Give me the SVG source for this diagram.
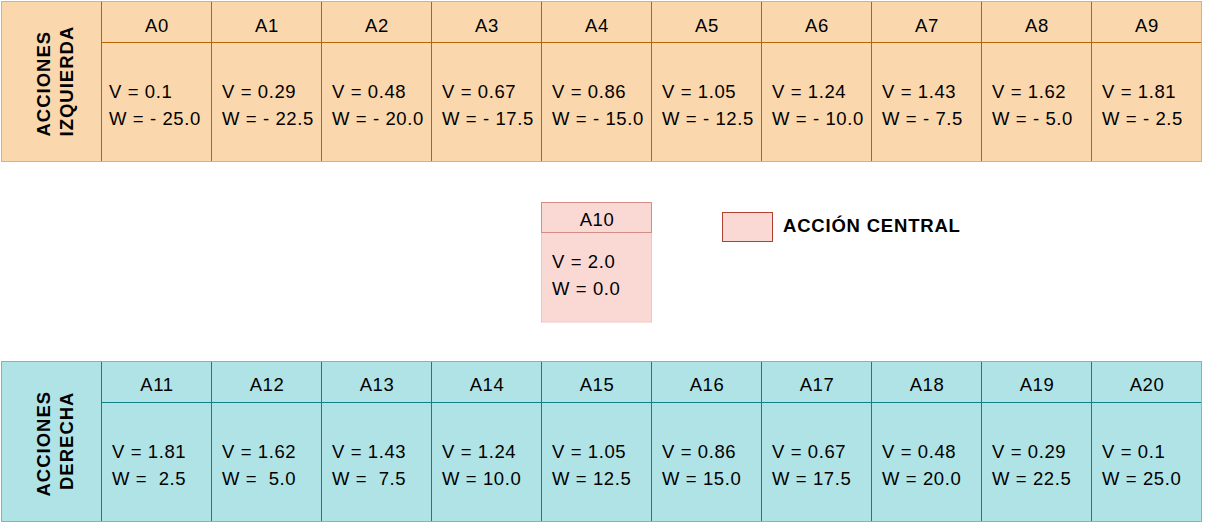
<svg xmlns="http://www.w3.org/2000/svg" width="1205" height="525" viewBox="0 0 1205 525">
<style>
text{font-family:"Liberation Sans",Arial,Helvetica,sans-serif;font-size:18.5px;fill:#000;letter-spacing:0.6px;white-space:pre}
.b{font-weight:bold;letter-spacing:1px}
.h{text-anchor:middle}
.lc{fill:#fad7ac;stroke:#b46504;stroke-width:1}
.rc{fill:#b0e3e6;stroke:#0e8088;stroke-width:1}
.lo{fill:none;stroke:#dcae80;stroke-width:1}
.ro{fill:none;stroke:#72bcc0;stroke-width:1}
</style>
<rect x="0" y="0" width="1205" height="525" fill="#ffffff"/>
<g id="izquierda">
<g id="label-izq"><rect class="lc" x="1.5" y="1.5" width="100" height="160"/><text class="b" transform="translate(50,136.5) rotate(-90)">ACCIONES</text><text class="b" transform="translate(73,136.5) rotate(-90)">IZQUIERDA</text></g>
<g id="A0"><rect class="lc" x="101.5" y="1.5" width="110" height="41"/><rect class="lc" x="101.5" y="42.5" width="110" height="119"/><text class="h" x="157" y="31.5">A0</text><text x="109" y="98">V = 0.1</text><text x="109" y="125">W = - 25.0</text></g>
<g id="A1"><rect class="lc" x="211.5" y="1.5" width="110" height="41"/><rect class="lc" x="211.5" y="42.5" width="110" height="119"/><text class="h" x="267" y="31.5">A1</text><text x="222" y="98">V = 0.29</text><text x="222" y="125">W = - 22.5</text></g>
<g id="A2"><rect class="lc" x="321.5" y="1.5" width="110" height="41"/><rect class="lc" x="321.5" y="42.5" width="110" height="119"/><text class="h" x="377" y="31.5">A2</text><text x="332" y="98">V = 0.48</text><text x="332" y="125">W = - 20.0</text></g>
<g id="A3"><rect class="lc" x="431.5" y="1.5" width="110" height="41"/><rect class="lc" x="431.5" y="42.5" width="110" height="119"/><text class="h" x="487" y="31.5">A3</text><text x="442" y="98">V = 0.67</text><text x="442" y="125">W = - 17.5</text></g>
<g id="A4"><rect class="lc" x="541.5" y="1.5" width="110" height="41"/><rect class="lc" x="541.5" y="42.5" width="110" height="119"/><text class="h" x="597" y="31.5">A4</text><text x="552" y="98">V = 0.86</text><text x="552" y="125">W = - 15.0</text></g>
<g id="A5"><rect class="lc" x="651.5" y="1.5" width="110" height="41"/><rect class="lc" x="651.5" y="42.5" width="110" height="119"/><text class="h" x="707" y="31.5">A5</text><text x="662" y="98">V = 1.05</text><text x="662" y="125">W = - 12.5</text></g>
<g id="A6"><rect class="lc" x="761.5" y="1.5" width="110" height="41"/><rect class="lc" x="761.5" y="42.5" width="110" height="119"/><text class="h" x="817" y="31.5">A6</text><text x="772" y="98">V = 1.24</text><text x="772" y="125">W = - 10.0</text></g>
<g id="A7"><rect class="lc" x="871.5" y="1.5" width="110" height="41"/><rect class="lc" x="871.5" y="42.5" width="110" height="119"/><text class="h" x="927" y="31.5">A7</text><text x="882" y="98">V = 1.43</text><text x="882" y="125">W = - 7.5</text></g>
<g id="A8"><rect class="lc" x="981.5" y="1.5" width="110" height="41"/><rect class="lc" x="981.5" y="42.5" width="110" height="119"/><text class="h" x="1037" y="31.5">A8</text><text x="992" y="98">V = 1.62</text><text x="992" y="125">W = - 5.0</text></g>
<g id="A9"><rect class="lc" x="1091.5" y="1.5" width="110" height="41"/><rect class="lc" x="1091.5" y="42.5" width="110" height="119"/><text class="h" x="1147" y="31.5">A9</text><text x="1102" y="98">V = 1.81</text><text x="1102" y="125">W = - 2.5</text></g>
<rect class="lo" x="1.5" y="1.5" width="1200" height="160"/>
</g>
<g id="A10">
<rect x="541.5" y="232" width="110" height="90" fill="#fad9d5" stroke="#f2c4c0" stroke-width="1"/>
<rect x="541.5" y="202.5" width="110" height="30" fill="#fad9d5" stroke="#d48e89" stroke-width="1"/>
<text class="h" x="597" y="225.5">A10</text><text x="552" y="268">V = 2.0</text><text x="552" y="295">W = 0.0</text>
</g>
<g id="leyenda">
<rect x="722.5" y="212.5" width="50" height="29" fill="#fad9d5" stroke="#ae4132" stroke-width="1"/>
<text class="b" x="783" y="231.5" style="letter-spacing:0.8px">ACCIÓN CENTRAL</text>
</g>
<g id="derecha">
<g id="label-der"><rect class="rc" x="1.5" y="361.5" width="100" height="160"/><text class="b" transform="translate(50,496.5) rotate(-90)">ACCIONES</text><text class="b" transform="translate(73,490) rotate(-90)">DERECHA</text></g>
<g id="A11"><rect class="rc" x="101.5" y="361.5" width="110" height="41"/><rect class="rc" x="101.5" y="402.5" width="110" height="119"/><text class="h" x="157" y="391">A11</text><text x="112" y="458">V = 1.81</text><text x="112" y="485">W =  2.5</text></g>
<g id="A12"><rect class="rc" x="211.5" y="361.5" width="110" height="41"/><rect class="rc" x="211.5" y="402.5" width="110" height="119"/><text class="h" x="267" y="391">A12</text><text x="222" y="458">V = 1.62</text><text x="222" y="485">W =  5.0</text></g>
<g id="A13"><rect class="rc" x="321.5" y="361.5" width="110" height="41"/><rect class="rc" x="321.5" y="402.5" width="110" height="119"/><text class="h" x="377" y="391">A13</text><text x="332" y="458">V = 1.43</text><text x="332" y="485">W =  7.5</text></g>
<g id="A14"><rect class="rc" x="431.5" y="361.5" width="110" height="41"/><rect class="rc" x="431.5" y="402.5" width="110" height="119"/><text class="h" x="487" y="391">A14</text><text x="442" y="458">V = 1.24</text><text x="442" y="485">W = 10.0</text></g>
<g id="A15"><rect class="rc" x="541.5" y="361.5" width="110" height="41"/><rect class="rc" x="541.5" y="402.5" width="110" height="119"/><text class="h" x="597" y="391">A15</text><text x="552" y="458">V = 1.05</text><text x="552" y="485">W = 12.5</text></g>
<g id="A16"><rect class="rc" x="651.5" y="361.5" width="110" height="41"/><rect class="rc" x="651.5" y="402.5" width="110" height="119"/><text class="h" x="707" y="391">A16</text><text x="662" y="458">V = 0.86</text><text x="662" y="485">W = 15.0</text></g>
<g id="A17"><rect class="rc" x="761.5" y="361.5" width="110" height="41"/><rect class="rc" x="761.5" y="402.5" width="110" height="119"/><text class="h" x="817" y="391">A17</text><text x="772" y="458">V = 0.67</text><text x="772" y="485">W = 17.5</text></g>
<g id="A18"><rect class="rc" x="871.5" y="361.5" width="110" height="41"/><rect class="rc" x="871.5" y="402.5" width="110" height="119"/><text class="h" x="927" y="391">A18</text><text x="882" y="458">V = 0.48</text><text x="882" y="485">W = 20.0</text></g>
<g id="A19"><rect class="rc" x="981.5" y="361.5" width="110" height="41"/><rect class="rc" x="981.5" y="402.5" width="110" height="119"/><text class="h" x="1037" y="391">A19</text><text x="992" y="458">V = 0.29</text><text x="992" y="485">W = 22.5</text></g>
<g id="A20"><rect class="rc" x="1091.5" y="361.5" width="110" height="41"/><rect class="rc" x="1091.5" y="402.5" width="110" height="119"/><text class="h" x="1147" y="391">A20</text><text x="1102" y="458">V = 0.1</text><text x="1102" y="485">W = 25.0</text></g>
<rect class="ro" x="1.5" y="361.5" width="1200" height="160"/>
</g>
<g id="connectors"/>
</svg>
